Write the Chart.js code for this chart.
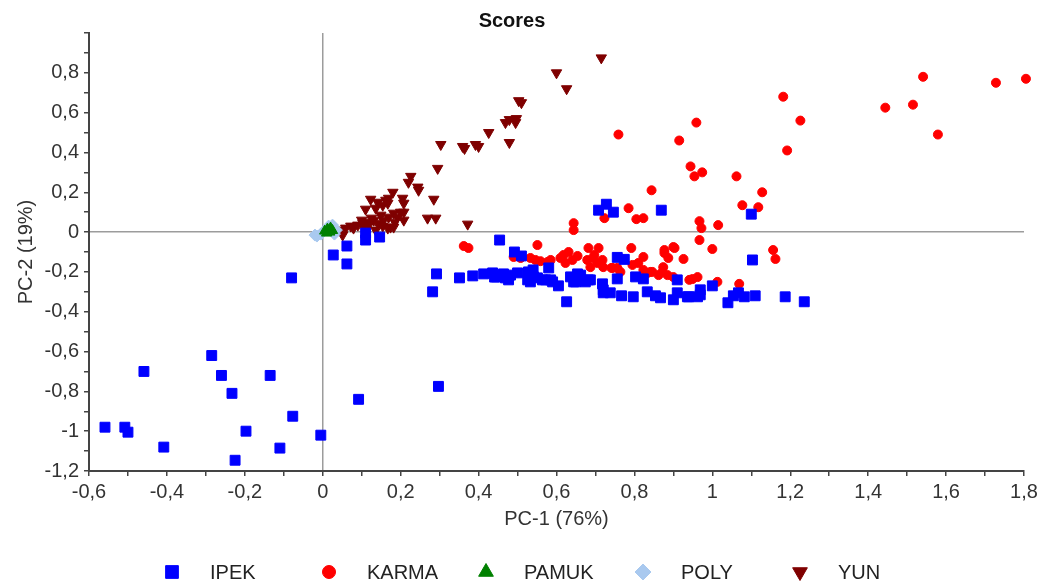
<!DOCTYPE html>
<html>
<head>
<meta charset="utf-8">
<title>Scores</title>
<script src="https://cdn.jsdelivr.net/npm/chart.js@4/dist/chart.umd.min.js"></script>
<style>
  html, body { margin: 0; padding: 0; background: #fff; }
</style>
</head>
<body>
<canvas id="scores" width="1051" height="587"></canvas>
<script>
// PCA score plot (PC-1 vs PC-2)

const seriesNames = ['IPEK', 'KARMA', 'PAMUK', 'POLY', 'YUN'];

const ipek = [
  [-0.559,-0.98],[-0.508,-0.98],[-0.50,-1.005],[-0.459,-0.70],[-0.408,-1.08],[-0.285,-0.62],
  [-0.26,-0.72],[-0.233,-0.81],[-0.225,-1.146],[-0.197,-1.0],[-0.135,-0.72],[-0.11,-1.085],
  [-0.077,-0.925],[-0.08,-0.23],[-0.005,-1.02],[0.092,-0.84],[0.297,-0.775],
  [0.027,-0.115],[0.062,-0.07],[0.062,-0.16],[0.11,-0.005],[0.11,-0.04],[0.146,-0.025],
  [0.454,-0.04],[0.292,-0.21],[0.282,-0.30],[0.351,-0.23],[0.385,-0.22],[0.413,-0.21],
  [0.436,-0.205],[0.446,-0.225],[0.464,-0.21],[0.477,-0.24],[0.492,-0.10],[0.51,-0.12],
  [0.50,-0.205],[0.526,-0.24],[0.54,-0.19],[0.541,-0.225],[0.564,-0.24],[0.585,-0.24],
  [0.605,-0.27],[0.58,-0.18],[0.626,-0.35],[0.636,-0.225],[0.654,-0.21],[0.649,-0.25],
  [0.682,-0.24],[0.708,0.11],[0.728,0.14],[0.746,0.10],[0.869,0.11],
  [0.718,-0.26],[0.72,-0.305],[0.738,-0.305],[0.767,-0.32],[0.797,-0.325],[0.756,-0.127],
  [0.774,-0.137],[0.756,-0.235],[0.803,-0.225],[0.823,-0.235],[0.833,-0.30],[0.854,-0.32],
  [0.867,-0.33],[0.90,-0.34],[0.91,-0.24],[0.91,-0.305],[0.936,-0.325],
  [1.10,0.09],[1.103,-0.14],[0.939,-0.325],[0.962,-0.325],[0.969,-0.29],[0.969,-0.315],
  [1.0,-0.27],[1.04,-0.355],[1.054,-0.32],[1.067,-0.305],[1.082,-0.325],[1.11,-0.32],
  [1.187,-0.325],[1.236,-0.35],
  [0.441,-0.226],[0.462,-0.216],[0.469,-0.23],[0.482,-0.216],[0.528,-0.2],[0.533,-0.25],
  [0.551,-0.23],[0.572,-0.24],[0.59,-0.25],[0.644,-0.25],[0.662,-0.216],[0.674,-0.25],
  [0.687,-0.24],[0.72,-0.29]
];

const karma = [
  [1.541,0.78],[1.728,0.75],[1.805,0.77],[1.444,0.625],[1.515,0.64],[1.579,0.49],
  [1.182,0.68],[1.226,0.56],[1.192,0.41],[0.959,0.55],[0.915,0.46],[0.944,0.33],
  [0.954,0.28],[0.974,0.30],[1.062,0.28],[1.128,0.20],[1.077,0.135],[1.118,0.125],
  [0.844,0.21],[0.967,0.055],[0.972,0.02],[1.015,0.035],[0.967,-0.04],[1.0,-0.085],
  [0.90,-0.075],[0.877,-0.09],[1.156,-0.09],[1.162,-0.135],[0.759,0.49],[0.785,0.12],
  [0.723,0.07],[0.805,0.065],[0.823,0.07],[0.644,0.045],[0.644,0.01],
  [0.362,-0.07],[0.374,-0.08],[0.551,-0.065],[0.49,-0.125],[0.508,-0.13],[0.533,-0.13],
  [0.546,-0.14],[0.559,-0.146],[0.577,-0.15],[0.585,-0.14],
  [0.61,-0.13],[0.618,-0.115],[0.631,-0.10],[0.641,-0.14],[0.654,-0.12],[0.623,-0.155],
  [0.682,-0.08],[0.708,-0.08],[0.695,-0.13],[0.679,-0.14],[0.687,-0.176],[0.705,-0.155],
  [0.718,-0.14],[0.72,-0.176],[0.744,-0.18],[0.756,-0.18],[0.764,-0.2],[0.697,-0.115],
  [0.741,-0.18],[0.792,-0.08],[0.823,-0.125],[0.81,-0.155],[0.795,-0.165],[0.823,-0.19],
  [0.841,-0.2],[0.877,-0.105],[0.887,-0.13],[0.903,-0.08],[0.926,-0.135],[0.874,-0.176],
  [0.872,-0.2],[0.885,-0.216],[0.941,-0.24],[0.862,-0.216],[0.9,-0.226],[0.949,-0.236],
  [0.962,-0.226],[1.013,-0.25],[1.069,-0.26],[0.846,-0.2],[0.833,-0.206]
];

const pamuk = [
  [0.005,0.005],[0.012,0.015],[0.018,0.0],[0.025,0.008],[0.01,-0.005],[0.02,0.02]
];

const poly = [
  [-0.015,-0.02],[-0.005,-0.01],[0.0,0.0],[0.025,0.035],[0.035,0.01],[0.03,-0.01],
  [-0.02,-0.015],[0.015,0.03]
];

const yun = [
  [0.715,0.875],[0.60,0.80],[0.626,0.72],[0.503,0.66],[0.51,0.65],[0.469,0.55],
  [0.479,0.565],[0.497,0.57],[0.495,0.55],[0.426,0.50],[0.479,0.45],[0.303,0.44],
  [0.359,0.43],[0.364,0.42],[0.392,0.44],[0.40,0.43],[0.295,0.32],[0.226,0.28],
  [0.22,0.25],[0.244,0.226],[0.246,0.21],[0.285,0.165],[0.269,0.07],[0.29,0.07],
  [0.372,0.04],[0.18,0.20],[0.205,0.17],[0.169,0.17],[0.162,0.16],[0.208,0.145],
  [0.123,0.165],[0.141,0.15],[0.11,0.115],[0.154,0.135],[0.167,0.145],[0.136,0.12],
  [0.2,0.10],[0.208,0.10],[0.182,0.095],[0.208,0.06],[0.192,0.075],[0.169,0.075],
  [0.149,0.085],[0.156,0.06],[0.131,0.06],[0.115,0.05],[0.103,0.045],[0.09,0.035],
  [0.072,0.03],[0.059,0.02],[0.046,0.01],[0.118,0.035],[0.141,0.045],[0.174,0.025],
  [0.154,0.03],[0.105,0.025],[0.079,0.02],[0.051,-0.015],[0.167,0.02],[0.182,0.025],
  [0.136,0.01],[0.125,0.07],[0.1,0.06],[0.185,0.05]
];

const FONT = "'Liberation Sans', Arial, sans-serif";
Chart.defaults.font.family = FONT;
Chart.defaults.font.size = 20;
Chart.defaults.color = '#333';

function makeSet(label, pts, style, color, radius, rotation) {
  return {
    label,
    data: pts.map(p => ({ x: p[0], y: p[1] })),
    clip: false,
    pointStyle: style,
    pointRotation: rotation || 0,
    backgroundColor: color,
    borderColor: color,
    pointBorderWidth: 1,
    pointRadius: radius,
    pointHoverRadius: radius
  };
}

// tick every 0,1 but label only every 0,2 (comma decimals like the original)
function tickLabel(v, hideAbove) {
  const k = Math.round(v * 10);
  if (k % 2 !== 0) return '';
  if (hideAbove !== undefined && k > hideAbove) return '';
  return (k / 10).toString().replace('.', ',');
}

function zeroLine(ctx) {
  return ctx.tick && Math.abs(ctx.tick.value) < 1e-9 ? '#9c9c9c' : 'rgba(0,0,0,0)';
}

const bottomLegend = {
  id: 'bottomLegend',
  afterDraw(chart) {
    const ctx = chart.ctx;
    const sizes = [9, 6.5, 8.5, 8, 8.5];
    ctx.save();
    chart.data.datasets.forEach((ds, i) => {
      const x = 172 + i * 157, y = 572;
      ctx.fillStyle = ds.backgroundColor;
      ctx.strokeStyle = ds.borderColor;
      ctx.lineWidth = 1;
      Chart.helpers.drawPoint(ctx, {
        pointStyle: ds.pointStyle, rotation: ds.pointRotation, radius: sizes[i], borderWidth: 1
      }, x, y);
      ctx.fillStyle = '#222';
      ctx.font = '20px ' + FONT;
      ctx.textAlign = 'left';
      ctx.textBaseline = 'middle';
      ctx.fillText(ds.label, x + 38, y + 1);
    });
    ctx.restore();
  }
};

new Chart(document.getElementById('scores'), {
  type: 'scatter',
  data: {
    datasets: [
      makeSet(seriesNames[0], ipek, 'rect', '#0000ff', 7),
      makeSet(seriesNames[1], karma, 'circle', '#ff0000', 4.5),
      makeSet(seriesNames[2], pamuk, 'triangle', '#008000', 6),
      makeSet(seriesNames[3], poly, 'rectRot', '#a9c9ef', 6),
      makeSet(seriesNames[4], yun, 'triangle', '#7f0000', 6, 180)
    ]
  },
  options: {
    responsive: false,
    animation: false,
    layout: { padding: { left: 0, right: 27, top: 0, bottom: 54 } },
    plugins: {
      legend: { display: false },
      tooltip: { enabled: false },
      title: {
        display: true,
        text: 'Scores',
        color: '#111',
        font: { size: 20, weight: 'bold' },
        padding: { top: 9, bottom: 0 }
      }
    },
    scales: {
      x: {
        type: 'linear',
        min: -0.6,
        max: 1.8,
        ticks: { stepSize: 0.1, autoSkip: false, maxRotation: 0, padding: 4, color: '#333',
                 callback: v => tickLabel(v) },
        grid: { color: zeroLine, lineWidth: 1.5, tickColor: '#444', tickLength: 5 },
        border: { color: '#444', width: 2 },
        title: { display: true, text: 'PC-1 (76%)', color: '#333', padding: { top: 0, bottom: 2 } },
        afterFit: s => { s.height = 62; }
      },
      y: {
        type: 'linear',
        min: -1.2,
        max: 1.0,
        ticks: { stepSize: 0.1, autoSkip: false, padding: 5, color: '#333',
                 callback: v => tickLabel(v, 8) },
        grid: { color: zeroLine, lineWidth: 1.5, tickColor: '#444', tickLength: 5 },
        border: { color: '#444', width: 2 },
        title: { display: true, text: 'PC-2 (19%)', color: '#333', padding: { top: 14, bottom: 0 } },
        afterFit: s => { s.width = 89; }
      }
    }
  },
  plugins: [bottomLegend]
});
</script>
</body>
</html>
